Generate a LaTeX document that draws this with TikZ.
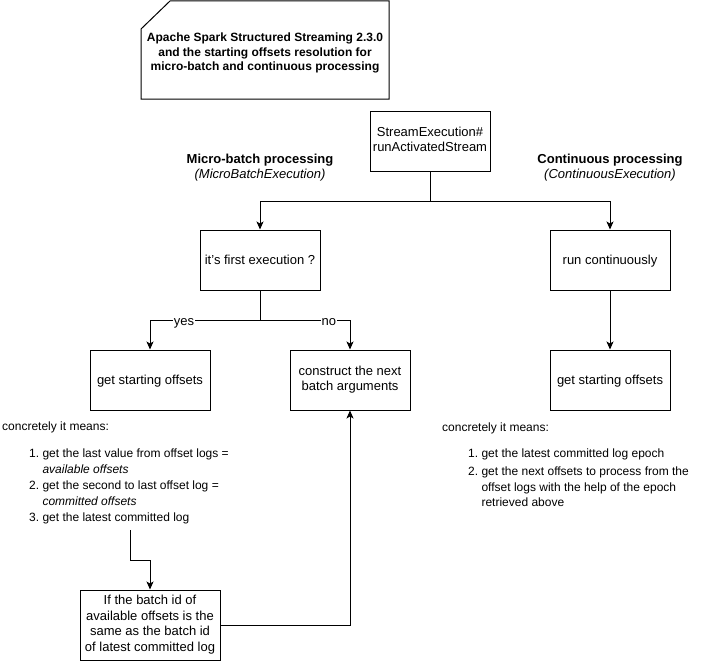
\documentclass[tikz,border=0pt]{standalone}
\usepackage{fontspec}
\setmainfont{Liberation Sans}
\usetikzlibrary{arrows.meta}
\newcommand{\tsb}{\rule{0pt}{12.3pt}}
\newcommand{\tse}{\rule[-3.3pt]{0pt}{0pt}}
\newcommand{\ssb}{\rule{0pt}{11.4pt}}
\newcommand{\sse}{\rule[-3.1pt]{0pt}{0pt}}
\begin{document}
\begin{tikzpicture}[x=1pt,y=-1pt,
 font=\fontsize{12}{15.5}\selectfont,
 big/.style={font=\fontsize{13}{15.6}\selectfont,
   execute at begin node={\tsb}, execute at end node={\tse}},
 box/.style={draw,line width=1pt,minimum width=120pt,minimum height=60pt,inner sep=0pt,align=center,big},
 conn/.style={line width=1pt,-{Stealth[length=8pt,width=7pt,inset=2pt]}},
 plain/.style={line width=1pt},
 lbl/.style={fill=white,inner xsep=1pt,inner ysep=0pt,big},
 txt/.style={inner sep=0pt},
 ]
\useasboundingbox (0,0) rectangle (701,661);
% title card
\draw[plain] (141,29) -- (170,1) -- (389,1) -- (389,99) -- (141,99) -- cycle;
\node[txt,align=center,font=\fontsize{12}{14.5}\selectfont\bfseries,
  execute at begin node={\ssb}, execute at end node={\sse}] (title) at (265,53.3)
  {Apache Spark Structured Streaming 2.3.0\\and the starting offsets resolution for\\micro-batch and continuous processing};
% boxes
\node[box] (stream) at (430,141) {StreamExecution\#\\runActivatedStream};
\node[box] (first) at (260,260) {it's first execution ?};
\node[box] (run) at (610,260) {run continuously};
\node[box] (gsol) at (150,380) {get starting offsets};
\node[box] (cons) at (350,380) {construct the next\\batch arguments};
\node[box] (gsor) at (610,380) {get starting offsets};
\node[box,minimum width=140pt,minimum height=70pt] (batch) at (150,625)
  {If the batch id of\\available offsets is the\\same as the batch id\\of latest committed log};
% headings
\node[txt,align=center,big] (mb) at (260,168)
  {\textbf{Micro-batch processing}\\\textit{(MicroBatchExecution)}};
\node[txt,align=center,big] (ct) at (610,168)
  {\textbf{Continuous processing}\\\textit{(ContinuousExecution)}};
% descriptions
\node[txt,anchor=base west] (cl) at (2,430) {concretely it means:};
\node[txt,anchor=base west,font=\fontsize{12}{16}\selectfont] (listl) at (29,457)
  {\begin{tabular}[t]{@{}r@{\hspace{3.34pt}}l@{}}
   1.& get the last value from offset logs =\\
     & \textit{available offsets}\\
   2.& get the second to last offset log =\\
     & \textit{committed offsets}\\
   3.& get the latest committed log
   \end{tabular}};
\node[txt,anchor=base west] (cr) at (442,431) {concretely it means:};
\node[txt,anchor=base west,font=\fontsize{12}{16}\selectfont] (listr) at (468,457)
  {\begin{tabular}[t]{@{}r@{\hspace{3.34pt}}l@{}}
   1.& get the latest committed log epoch\\[2.5pt]
   2.& get the next offsets to process from the\\
     & offset logs with the help of the epoch\\[-1pt]
     & retrieved above
   \end{tabular}};
\coordinate (l3) at (130,530);
% connectors
\draw[plain] (stream.south) -- ++(0,30) coordinate (split);
\draw[conn] (split) -| (first.north);
\draw[conn] (split) -| (run.north);
\draw[plain] (first.south) -- ++(0,30) coordinate (split2);
\draw[conn] (split2) -| (gsol.north) node[lbl,pos=0.345] (yes) {yes};
\draw[conn] (split2) -| (cons.north) node[lbl,pos=0.383] (no) {no};
\draw[conn] (run.south) -- (gsor.north);
\draw[conn] (l3) -- ++(0,30) -| (batch.north);
\draw[conn] (batch.east) -| (cons.south);
\end{tikzpicture}
\end{document}
